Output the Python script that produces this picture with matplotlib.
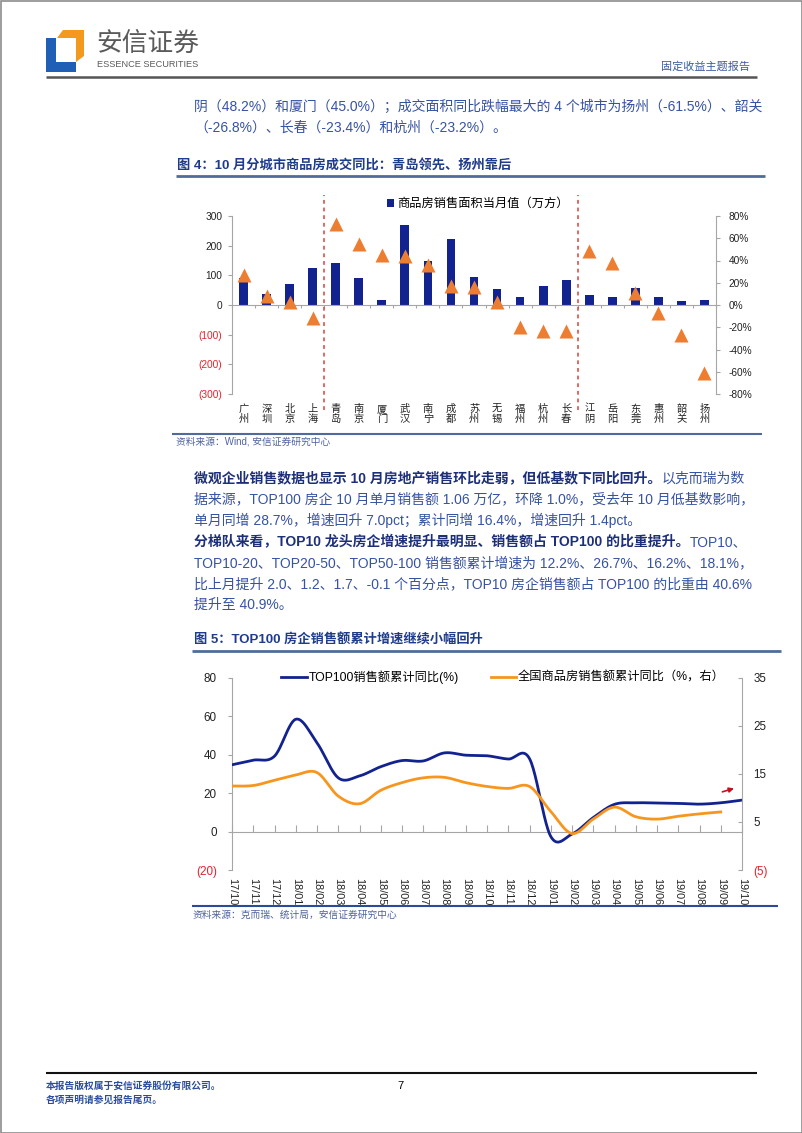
import numpy as np
import matplotlib
matplotlib.use("Agg")
import matplotlib.pyplot as plt
from matplotlib.patches import Polygon, Rectangle
from matplotlib.ticker import FuncFormatter, FixedLocator
import matplotlib.transforms as mtransforms

plt.rcParams['font.family'] = ['Liberation Sans', 'Noto Sans CJK SC']
plt.rcParams['axes.unicode_minus'] = False

# ---- data: figure 4 ----
cities = ['广州', '深圳', '北京', '上海', '青岛', '南京', '厦门', '武汉', '南宁', '成都', '苏州',
          '无锡', '福州', '杭州', '长春', '江阴', '岳阳', '东莞', '惠州', '韶关', '扬州']
area = [90, 37, 71, 126, 143, 91, 18, 269, 149, 221, 94, 54, 28, 64, 84, 34, 28, 58, 28, 15, 18]
yoy = [27.0, 8.0, 3.0, -12.0, 72.5, 55.0, 45.0, 44.0, 36.0, 17.0, 16.0, 2.4, -19.5, -23.2, -23.4,
       48.2, 37.5, 10.8, -6.9, -26.8, -61.5]
group_breaks = [3.5, 14.5]

# ---- data: figure 5 ----
months = ['17/10', '17/11', '17/12', '18/01', '18/02', '18/03', '18/04', '18/05', '18/06', '18/07',
          '18/08', '18/09', '18/10', '18/11', '18/12', '19/01', '19/02', '19/03', '19/04', '19/05',
          '19/06', '19/07', '19/08', '19/09', '19/10']
top100 = [34.8, 37.2, 39.3, 58.5, 46.2, 28.0, 29.0, 33.8, 37.0, 36.8, 41.0, 39.8, 39.5, 37.8, 38.0,
          -2.5, -1.3, 7.3, 14.2, 15.0, 14.9, 14.7, 14.3, 15.0, 16.4]
national = [12.5, 12.6, 13.7, 14.8, 15.3, 10.4, 8.8, 11.6, 13.2, 14.2, 14.3, 13.2, 12.4, 12.0, 12.4,
            7.2, 2.6, 5.6, 8.1, 6.1, 5.6, 6.2, 6.7, 7.1]

NAVY = '#12238F'
ORANGE = '#ED7D31'
ORANGE2 = '#F7961E'
GRAY = '#A6A6A6'
RED = '#E8202A'
TXT = '#3653A3'
BOLD = '#1E2F7A'
RULE = '#4F6B9D'


def smooth(y, n=24):
    # excel style smoothed line (bezier through the points)
    y = np.asarray(y, float)
    x = np.arange(len(y), dtype=float)
    P = np.column_stack([x, y])
    Pp = np.vstack([P[0], P, P[-1]])
    t = np.linspace(0, 1, n)[:, None]
    out = []
    for i in range(len(P) - 1):
        p0, p1 = Pp[i + 1], Pp[i + 2]
        c1 = p0 + (Pp[i + 2] - Pp[i]) / 6
        c2 = p1 - (Pp[i + 3] - Pp[i + 1]) / 6
        seg = ((1 - t) ** 3) * p0 + 3 * ((1 - t) ** 2) * t * c1 + 3 * (1 - t) * t ** 2 * c2 + t ** 3 * p1
        out.append(seg if i == 0 else seg[1:])
    out = np.vstack(out)
    return out[:, 0], out[:, 1]


def paren(v, p):
    v = round(v)
    return f'({-v:d})' if v < 0 else f'{v:d}'


W, H = 802, 1133
fig = plt.figure(figsize=(W / 100, H / 100), dpi=100)

page = fig.add_axes([0, 0, 1, 1], zorder=0)
page.set_xlim(0, W)
page.set_ylim(H, 0)
page.axis('off')
page.add_patch(Rectangle((0.5, 0.5), W - 1, H - 1, fill=False, ec='#8C8C8C', lw=1.2))

# header
page.add_patch(Polygon([(46, 38), (56, 38), (56, 62), (76, 62), (76, 72), (46, 72)], closed=True,
                       fc='#1F5FB5', ec='none'))
page.add_patch(Polygon([(57, 38), (63, 30), (84, 30), (84, 56), (76, 62), (76, 38)], closed=True,
                       fc='#F39A1E', ec='none'))
page.text(96, 44, '安信证券', fontsize=18.5, color='#5A5A5A', va='center', ha='left')
page.text(97, 64.5, 'ESSENCE SECURITIES', fontsize=6.6, color='#5A5A5A', va='center', ha='left')
page.text(750, 67, '固定收益主题报告', fontsize=8, color='#3E5C9E', va='center', ha='right')
page.plot([46, 757], [77, 77], color='#555555', lw=1.8, solid_capstyle='butt')

# text blocks
fs_body = 10


def body_line(x, y, bold, rest):
    if bold:
        t1 = page.text(x, y, bold, fontsize=fs_body, fontweight='bold', color=BOLD, va='center', ha='left')
        if rest:
            page.annotate(rest, xy=(1, 0.5), xycoords=t1, fontsize=fs_body, color=TXT, va='center',
                          ha='left')
    else:
        page.text(x, y, rest, fontsize=fs_body, color=TXT, va='center', ha='left')


body_line(194, 107, '', '阴（48.2%）和厦门（45.0%）；成交面积同比跌幅最大的 4 个城市为扬州（-61.5%）、韶关')
body_line(194, 128, '', '（-26.8%）、长春（-23.4%）和杭州（-23.2%）。')

page.text(177, 165, '图 4：10 月分城市商品房成交同比：青岛领先、扬州靠后', fontsize=9.5,
          fontweight='bold', color='#1F3B8C', va='center', ha='left')
page.plot([176, 765], [175.5, 175.5], color=RULE, lw=2, solid_capstyle='butt')
page.plot([172, 762], [434, 434], color=RULE, lw=1.5, solid_capstyle='butt')
page.text(176, 442, '资料来源：Wind, 安信证券研究中心', fontsize=7, color='#4F64A0', va='center', ha='left')

lines = [
    ('微观企业销售数据也显示 10 月房地产销售环比走弱，但低基数下同比回升。', '以克而瑞为数'),
    ('', '据来源，TOP100 房企 10 月单月销售额 1.06 万亿，环降 1.0%，受去年 10 月低基数影响，'),
    ('', '单月同增 28.7%，增速回升 7.0pct；累计同增 16.4%，增速回升 1.4pct。'),
    ('分梯队来看，TOP10 龙头房企增速提升最明显、销售额占 TOP100 的比重提升。', 'TOP10、'),
    ('', 'TOP10-20、TOP20-50、TOP50-100 销售额累计增速为 12.2%、26.7%、16.2%、18.1%，'),
    ('', '比上月提升 2.0、1.2、1.7、-0.1 个百分点，TOP10 房企销售额占 TOP100 的比重由 40.6%'),
    ('', '提升至 40.9%。'),
]
for k, (b, r) in enumerate(lines):
    body_line(194, 478.5 + 21.1 * k, b, r)

page.text(194, 640, '图 5：TOP100 房企销售额累计增速继续小幅回升', fontsize=9.5, fontweight='bold',
          color='#1F3B8C', va='center', ha='left')
page.plot([192, 781], [650.5, 650.5], color=RULE, lw=2, solid_capstyle='butt')
page.plot([192, 778], [906, 906], color='#2B4A9A', lw=1.5, solid_capstyle='butt')
page.text(193, 915, '资料来源：克而瑞、统计局，安信证券研究中心', fontsize=7, color='#4F64A0', va='center',
          ha='left')

# footer
page.plot([46, 757], [1073, 1073], color='#111111', lw=1.5, solid_capstyle='butt')
page.text(46, 1086, '本报告版权属于安信证券股份有限公司。', fontsize=7, fontweight='bold', color='#2C4C9C',
          va='center', ha='left')
page.text(46, 1099.5, '各项声明请参见报告尾页。', fontsize=7, fontweight='bold', color='#2C4C9C',
          va='center', ha='left')
page.text(400, 1086, '7', fontsize=8, color='black', va='center', ha='center')

# ---------- figure 4 ----------
ax = fig.add_axes([232 / W, 1 - 394 / H, 484 / W, 178 / H], zorder=2)
ax.patch.set_visible(False)
x = np.arange(len(cities))
bars = ax.bar(x, area, width=0.38, color=NAVY, zorder=2, label='商品房销售面积当月值（万方）')
ax.set_xlim(-0.5, len(cities) - 0.5)
ax.set_ylim(-300, 300)
ax.set_yticks(np.arange(-300, 301, 100))
ax.yaxis.set_major_formatter(FuncFormatter(paren))
for s in ['top', 'right']:
    ax.spines[s].set_visible(False)
ax.spines['left'].set_color(GRAY)
ax.spines['bottom'].set_position(('data', 0))
ax.spines['bottom'].set_color(GRAY)
ax.xaxis.set_major_locator(FixedLocator(np.arange(-0.5, len(cities), 1.0)))
ax.tick_params(axis='x', length=2.5, color=GRAY, labelbottom=False)
ax.tick_params(axis='y', length=3, color=GRAY, labelsize=7.3, pad=4)
for lab, v in zip(ax.get_yticklabels(), np.arange(-300, 301, 100)):
    lab.set_color(RED if v < 0 else '#222222')
trans = mtransforms.blended_transform_factory(ax.transData, ax.transAxes)
for i, c in enumerate(cities):
    ax.text(i, -0.055, c[0] + '\n' + c[1], transform=trans, ha='center', va='top', fontsize=7.4,
            linespacing=1.0, color='#222222')
for gx in group_breaks:
    ax.axvline(gx, ymin=-0.09, ymax=1.12, color='#D9413A', lw=1.1, ls=(0, (2.5, 2.5)), clip_on=False)

ax2 = ax.twinx()
ax2.patch.set_visible(False)
ax2.plot(x, np.array(yoy) / 100, ls='none', marker='^', ms=10.5, color=ORANGE, mec='none', zorder=3)
ax2.set_ylim(-0.8, 0.8)
ax2.set_yticks(np.arange(-0.8, 0.81, 0.2))
ax2.yaxis.set_major_formatter(FuncFormatter(lambda v, p: f'{round(v * 100):d}%'))
for s in ['top', 'left', 'bottom']:
    ax2.spines[s].set_visible(False)
ax2.spines['right'].set_color(GRAY)
ax2.tick_params(axis='y', length=3, color=GRAY, labelsize=7.3, pad=6, labelcolor='#222222')
ax.legend(handles=[bars], loc='center', bbox_to_anchor=(478 / W, 1 - 204 / H), bbox_transform=fig.transFigure,
          frameon=False, fontsize=8.8, handlelength=0.6, handleheight=0.6, handletextpad=0.3)

# ---------- figure 5 ----------
bx = fig.add_axes([232 / W, 1 - 870 / H, 510 / W, 192 / H], zorder=2)
bx.patch.set_visible(False)
mx = np.arange(len(months))
xs, ys = smooth(top100)
l1, = bx.plot(xs, ys, color=NAVY, lw=2.0, label='TOP100销售额累计同比(%)', zorder=3)
bx.set_xlim(0, len(months) - 1)
bx.set_ylim(-20, 80)
bx.set_yticks(np.arange(-20, 81, 20))
bx.yaxis.set_major_formatter(FuncFormatter(paren))
for s in ['top', 'right']:
    bx.spines[s].set_visible(False)
bx.spines['left'].set_color(GRAY)
bx.spines['bottom'].set_position(('data', 0))
bx.spines['bottom'].set_color(GRAY)
bx.set_xticks(mx)
bx.tick_params(axis='x', direction='in', length=5, color=GRAY, labelbottom=False)
bx.tick_params(axis='y', length=3, color=GRAY, labelsize=8.4, pad=8)
for lab, v in zip(bx.get_yticklabels(), np.arange(-20, 81, 20)):
    lab.set_color(RED if v < 0 else '#222222')
trans2 = mtransforms.blended_transform_factory(bx.transData, bx.transAxes)
for i, m in enumerate(months):
    bx.text(i, -0.04, m, transform=trans2, rotation=-90, ha='center', va='top', fontsize=7.8,
            color='#222222')

bx2 = bx.twinx()
bx2.patch.set_visible(False)
xs2, ys2 = smooth(national)
l2, = bx2.plot(xs2, ys2, color=ORANGE2, lw=2.0, label='全国商品房销售额累计同比（%，右）', zorder=3)
bx2.set_ylim(-5, 35)
bx2.set_yticks(np.arange(-5, 36, 10))
bx2.yaxis.set_major_formatter(FuncFormatter(paren))
for s in ['top', 'left', 'bottom']:
    bx2.spines[s].set_visible(False)
bx2.spines['right'].set_color(GRAY)
bx2.tick_params(axis='y', direction='in', length=3, color=GRAY, labelsize=8.4, pad=8)
for lab, v in zip(bx2.get_yticklabels(), np.arange(-5, 36, 10)):
    lab.set_color(RED if v < 0 else '#222222')
bx.annotate('', xy=(23.75, 22.9), xytext=(22.95, 20.3),
            arrowprops=dict(arrowstyle='-|>', color='#C0141C', lw=1.2, mutation_scale=7))
bx.legend(handles=[l1, l2], loc='center', bbox_to_anchor=(503 / W, 1 - 677 / H), bbox_transform=fig.transFigure,
          frameon=False, fontsize=8.8, ncol=2, handlelength=2.1, handletextpad=0.15, columnspacing=2.6)

fig.savefig('out.png', dpi=100)
